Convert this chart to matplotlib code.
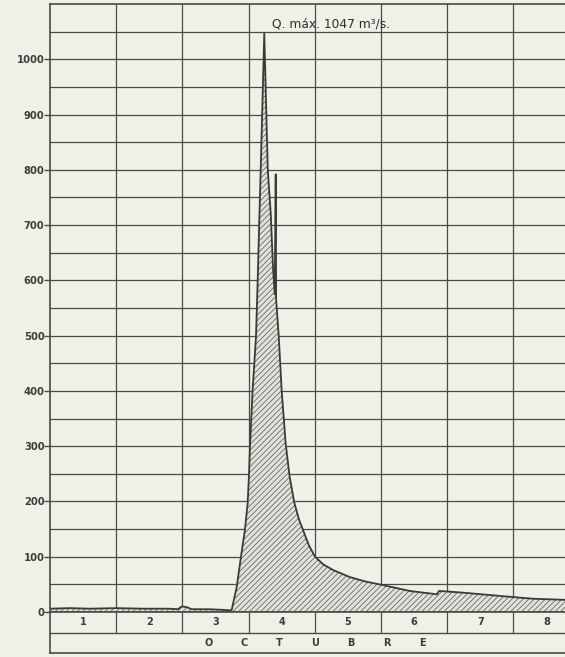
import numpy as np
import matplotlib
matplotlib.use("Agg")
import matplotlib.pyplot as plt

# Hydrograph, October (days from the start of the 1st)
t = [0.0, 0.3, 0.6, 1.0, 1.4, 1.8, 1.93, 1.99, 2.06, 2.14, 2.4, 2.6, 2.72,
     2.745, 2.82, 2.885, 2.945, 2.986, 3.006, 3.021, 3.06, 3.112, 3.137,
     3.162, 3.183, 3.237, 3.29, 3.335, 3.37, 3.395, 3.41, 3.416, 3.455,
     3.50, 3.56, 3.62, 3.69, 3.76, 3.83, 3.91, 4.003, 4.13, 4.275,
     4.532, 4.77, 5.015, 5.438, 5.846, 5.875, 5.895, 6.239, 6.994, 7.3, 7.78]
q = [6, 7, 6, 7, 6, 6, 5, 10, 9, 5, 5, 4, 3,
     4, 45, 100, 149, 197, 248, 299, 400, 498, 598,
     710, 800, 1047, 800, 720, 620, 575, 792, 565, 500,
     400, 305, 245, 198, 168, 146, 121, 100, 86, 76,
     63, 55, 49, 38, 32, 38, 38, 35, 27, 24, 22]

day_labels = ["1", "2", "3", "4", "5", "6", "7", "8"]
month = list("OCTUBRE")
q_max = 1047

BG = "#eef1e6"
INK = "#4a4a48"

plt.rcParams["hatch.color"] = "#555553"
plt.rcParams["hatch.linewidth"] = 0.5

fig = plt.figure(figsize=(5.65, 6.57), dpi=100, facecolor=BG)
left = 50 / 565
ax = fig.add_axes([left, 45 / 657, 1 - left, 608 / 657], facecolor=BG)

ax.fill_between(t, q, 0, facecolor="#e0e1d8", edgecolor="#555553",
                hatch="//////", linewidth=0)
ax.plot(t, q, color="#3a3a38", lw=1.3)

ax.set_xlim(0, 7.78)
ax.set_ylim(0, 1100)
ax.set_yticks(np.arange(0, 1001, 100))
ax.set_yticks(np.arange(50, 1100, 100), minor=True)
ax.set_yticklabels([str(v) for v in range(0, 1001, 100)])
ax.set_xticks(np.arange(1, 8))
ax.set_xticklabels([])
ax.grid(True, which="both", color=INK, lw=0.9)
ax.set_axisbelow(True)
ax.tick_params(axis="y", which="major", length=4, width=1.0, color=INK,
               labelsize=7.2, labelcolor="#3c3c3c", pad=0)
ax.tick_params(axis="y", which="minor", length=0)
ax.tick_params(axis="x", length=0)
for s in ["left", "top", "bottom"]:
    ax.spines[s].set_color(INK)
    ax.spines[s].set_linewidth(1.2)
ax.spines["right"].set_visible(False)
for lab in ax.get_yticklabels():
    lab.set_fontweight("bold")

ax.text(3.35, 1063, f"Q. máx. {q_max} m³/s.", fontsize=8.8, color="#2e2e2e",
        va="center", ha="left")

# day / month strip under the plot
ax2 = fig.add_axes([left, 4 / 657, 1 - left, 41 / 657], facecolor=BG)
ax2.set_xlim(0, 7.78)
ax2.set_ylim(0, 2)
ax2.axhline(1, color=INK, lw=1.0)
ax2.vlines(np.arange(1, 8), 1, 2, color=INK, lw=0.9)
for i, lab in enumerate(day_labels):
    ax2.text(i + 0.5, 1.5, lab, ha="center", va="center", fontsize=7,
             fontweight="bold", color="#3c3c3c")
for x, ch in zip(np.linspace(2.39, 5.63, len(month)), month):
    ax2.text(x, 0.5, ch, ha="center", va="center", fontsize=7,
             fontweight="bold", color="#3c3c3c")
ax2.set_xticks([])
ax2.set_yticks([])
for s in ["left", "top", "bottom"]:
    ax2.spines[s].set_color(INK)
    ax2.spines[s].set_linewidth(1.2)
ax2.spines["right"].set_visible(False)

fig.savefig("out.png", dpi=100, facecolor=BG)
